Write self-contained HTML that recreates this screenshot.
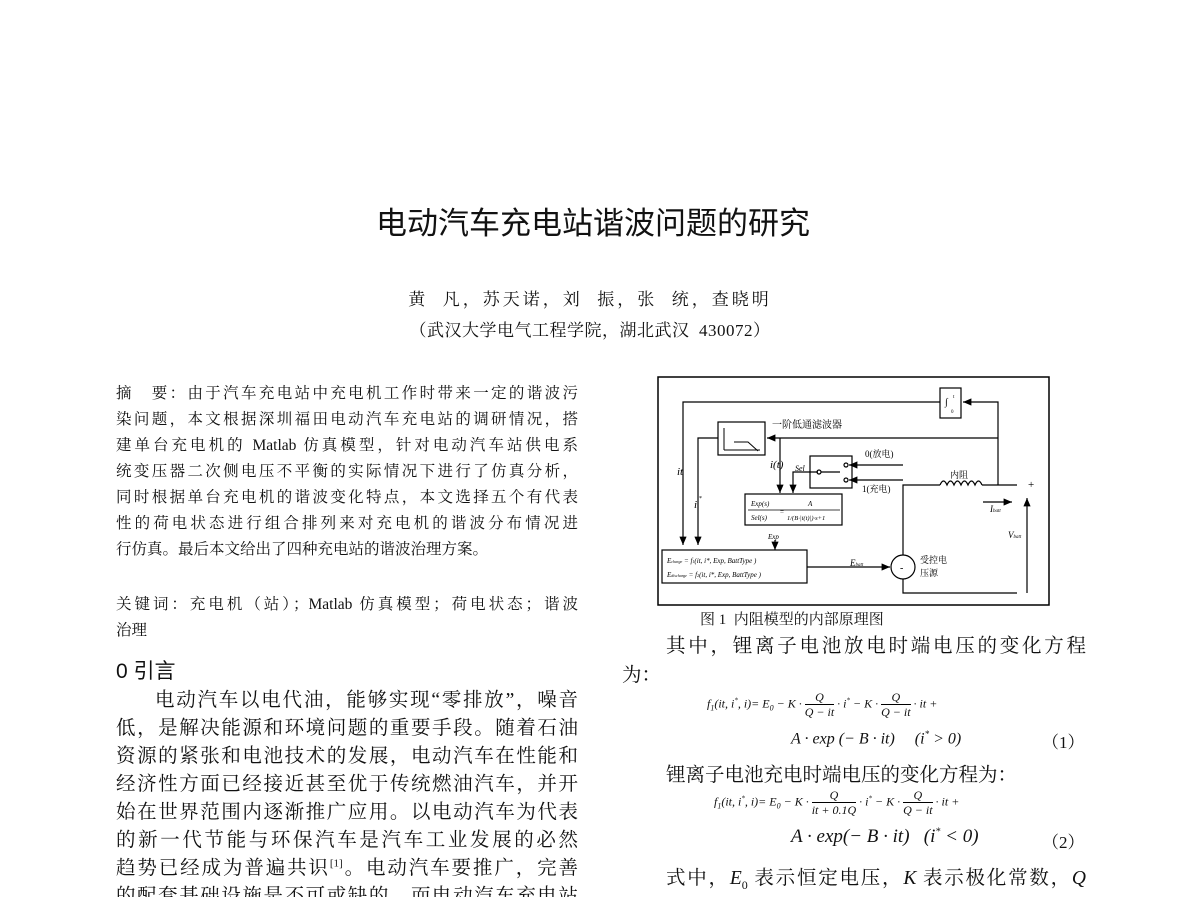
<!DOCTYPE html>
<html><head><meta charset="utf-8"><style>
body{margin:0;background:#fff;}
#p{position:relative;width:1200px;height:897px;overflow:hidden;background:#fff;color:#111;font-family:"Liberation Serif","Noto Serif CJK SC",serif;}
.a{position:absolute;white-space:nowrap;}
.j{position:absolute;white-space:nowrap;text-align:justify;text-align-last:justify;}
.ab{font-size:15.5px;left:116px;width:462px;}
.bd{font-size:19.5px;left:116px;width:462px;}
.m{font-family:"Liberation Serif",serif;font-style:italic;}
</style></head><body><div id="p">
<div class="a" style="left:0;width:1186px;text-align:center;top:198px;font-size:31px;font-family:'Liberation Sans','Noto Sans CJK SC',sans-serif;">电动汽车充电站谐波问题的研究</div>
<div class="a" style="left:0;width:1180px;text-align:center;top:285px;font-size:17px;letter-spacing:3px;">黄&nbsp; 凡，苏天诺，刘&nbsp; 振，张&nbsp; 统，查晓明</div>
<div class="a" style="left:0;width:1180px;text-align:center;top:316px;font-size:17px;letter-spacing:0.5px;">（武汉大学电气工程学院，湖北武汉&nbsp; 430072）</div>

<div class="j ab" style="top:381px">摘　要：由于汽车充电站中充电机工作时带来一定的谐波污</div>
<div class="j ab" style="top:407px">染问题，本文根据深圳福田电动汽车充电站的调研情况，搭</div>
<div class="j ab" style="top:433px">建单台充电机的 Matlab 仿真模型，针对电动汽车站供电系</div>
<div class="j ab" style="top:459px">统变压器二次侧电压不平衡的实际情况下进行了仿真分析，</div>
<div class="j ab" style="top:485px">同时根据单台充电机的谐波变化特点，本文选择五个有代表</div>
<div class="j ab" style="top:511px">性的荷电状态进行组合排列来对充电机的谐波分布情况进</div>
<div class="a ab" style="top:537px">行仿真。最后本文给出了四种充电站的谐波治理方案。</div>
<div class="j ab" style="top:592px">关键词：充电机（站）；Matlab 仿真模型；荷电状态；谐波</div>
<div class="a ab" style="top:618px">治理</div>

<div class="a" style="left:116px;top:655px;font-size:21px;font-family:'Liberation Sans','Noto Sans CJK SC',sans-serif;">0 引言</div>
<div class="j bd" style="top:684px;left:155px;width:423px">电动汽车以电代油，能够实现“零排放”，噪音</div>
<div class="j bd" style="top:712px">低，是解决能源和环境问题的重要手段。随着石油</div>
<div class="j bd" style="top:740px">资源的紧张和电池技术的发展，电动汽车在性能和</div>
<div class="j bd" style="top:768px">经济性方面已经接近甚至优于传统燃油汽车，并开</div>
<div class="j bd" style="top:796px">始在世界范围内逐渐推广应用。以电动汽车为代表</div>
<div class="j bd" style="top:824px">的新一代节能与环保汽车是汽车工业发展的必然</div>
<div class="j bd" style="top:852px">趋势已经成为普遍共识<sup style="font-size:11px">[1]</sup>。电动汽车要推广，完善</div>
<div class="j bd" style="top:880px">的配套基础设施是不可或缺的，而电动汽车充电站</div>

<svg class="a" style="left:0;top:0" width="1200" height="897" font-family="Liberation Serif,Noto Serif CJK SC,serif">
<defs><marker id="ar" markerWidth="8" markerHeight="8" refX="7" refY="3" orient="auto"><path d="M0,0L7,3L0,6z" fill="#000"/></marker></defs>
<g fill="none" stroke="#000" stroke-width="1.2">
<rect x="658" y="377" width="391" height="228" stroke-width="1.5"/>
<rect x="940" y="388" width="21" height="30"/>
<path d="M940,402H683V545" marker-end="url(#ar)"/>
<path d="M998,485V402H963" marker-end="url(#ar)"/>
<path d="M998,438H767" marker-end="url(#ar)"/>
<rect x="718" y="422" width="47" height="33"/>
<path d="M724,450V428M724,450H760M734,442H748L758,451" stroke-width="1"/>
<path d="M718,438H698V545" marker-end="url(#ar)"/>
<path d="M780,438V493" marker-end="url(#ar)"/>
<path d="M818,472H793V493" marker-end="url(#ar)"/>
<rect x="810" y="456" width="42" height="32"/>
<circle cx="819" cy="472" r="2"/><circle cx="846" cy="465" r="2"/><circle cx="846" cy="480" r="2"/>
<path d="M821,472H840"/>
<path d="M903,465H849" marker-end="url(#ar)"/>
<path d="M903,480H849" marker-end="url(#ar)"/>
<rect x="745" y="494" width="97" height="31"/>
<path d="M748,510H840" stroke-width="0.8"/>
<path d="M775,540V550" marker-end="url(#ar)"/>
<rect x="662" y="550" width="145" height="33"/>
<path d="M807,567H890" marker-end="url(#ar)"/>
<circle cx="903" cy="567" r="12"/>
<path d="M903,555V485H940M982,485H1017M903,579V593H1017"/>
<path d="M940,485q3.5,-8 7,0q3.5,-8 7,0q3.5,-8 7,0q3.5,-8 7,0q3.5,-8 7,0q3.5,-8 7,0"/>
<path d="M983,502H1012" marker-end="url(#ar)"/>
<path d="M1027,593V498" marker-end="url(#ar)"/>
</g>
<g font-size="9" fill="#000">
<text x="945" y="405" font-size="10">∫</text><text x="953" y="398" font-size="5">t</text><text x="951" y="413" font-size="5">0</text>
<text x="772" y="428" font-size="10">一阶低通滤波器</text>
<text x="677" y="475" font-size="11" font-style="italic">it</text>
<text x="694" y="508" font-size="11" font-style="italic">i</text><text x="699" y="500" font-size="6">*</text>
<text x="770" y="468" font-size="11" font-style="italic">i(t)</text>
<text x="795" y="471" font-size="8" font-style="italic">Sel</text>
<text x="865" y="457" font-size="9">0(放电)</text>
<text x="862" y="492" font-size="9">1(充电)</text>
<text x="950" y="478" font-size="9">内阻</text>
<text x="1028" y="488" font-size="11">+</text>
<text x="990" y="512" font-size="9" font-style="italic">I<tspan font-size="5">batt</tspan></text>
<text x="1008" y="538" font-size="9" font-style="italic">V<tspan font-size="5">batt</tspan></text>
<text x="751" y="506" font-size="7" font-style="italic">Exp(s)</text>
<text x="751" y="520" font-size="7" font-style="italic">Sel(s)</text>
<text x="780" y="514" font-size="7">=</text>
<text x="808" y="506" font-size="7" font-style="italic">A</text>
<text x="787" y="520" font-size="6.5" font-style="italic">1/(B·|i(t)|)·s+1</text>
<text x="768" y="539" font-size="7" font-style="italic">Exp</text>
<text x="667" y="563" font-size="7" font-style="italic">E<tspan font-size="4">charge</tspan> = f<tspan font-size="4">1</tspan>(it, i*, Exp, BattType )</text>
<text x="667" y="577" font-size="7" font-style="italic">E<tspan font-size="4">discharge</tspan> = f<tspan font-size="4">2</tspan>(it, i*, Exp, BattType )</text>
<text x="850" y="566" font-size="9" font-style="italic">E<tspan font-size="5">batt</tspan></text>
<text x="900" y="571" font-size="10">-</text>
<text x="920" y="563" font-size="9">受控电</text>
<text x="920" y="576" font-size="9">压源</text>
</g>
</svg>

<div class="a" style="left:700px;top:608px;font-size:15px;">图 1&nbsp; 内阻模型的内部原理图</div>
<div class="j" style="left:666px;top:630px;width:420px;font-size:19.5px;">其中，锂离子电池放电时端电压的变化方程</div>
<div class="a" style="left:622px;top:659px;font-size:19.5px;">为：</div>
<div class="a m" style="left:707px;top:690px;font-size:12px;">f<sub style="font-size:8px">1</sub>(it, i<sup style="font-size:7px">*</sup>, i)= E<sub style="font-size:8px">0</sub> − K · <span style="display:inline-block;text-align:center;vertical-align:middle;line-height:14px"><span style="display:block;border-bottom:1px solid #000">Q</span>Q − it</span> · i<sup style="font-size:7px">*</sup> − K · <span style="display:inline-block;text-align:center;vertical-align:middle;line-height:14px"><span style="display:block;border-bottom:1px solid #000">Q</span>Q − it</span> · it +</div>
<div class="a m" style="left:791px;top:729px;font-size:16px;">A · exp (− B · it)&nbsp;&nbsp;&nbsp;&nbsp; (i<sup style="font-size:9px">*</sup> &gt; 0)</div>
<div class="a" style="left:1042px;top:728px;font-size:17px;">（1）</div>
<div class="a" style="left:666px;top:759px;font-size:19.5px;">锂离子电池充电时端电压的变化方程为：</div>
<div class="a m" style="left:714px;top:788px;font-size:12px;">f<sub style="font-size:8px">1</sub>(it, i<sup style="font-size:7px">*</sup>, i)= E<sub style="font-size:8px">0</sub> − K · <span style="display:inline-block;text-align:center;vertical-align:middle;line-height:14px"><span style="display:block;border-bottom:1px solid #000">Q</span>it + 0.1Q</span> · i<sup style="font-size:7px">*</sup> − K · <span style="display:inline-block;text-align:center;vertical-align:middle;line-height:14px"><span style="display:block;border-bottom:1px solid #000">Q</span>Q − it</span> · it +</div>
<div class="a m" style="left:791px;top:826px;font-size:19px;">A · exp(− B · it)&nbsp;&nbsp; (i<sup style="font-size:10px">*</sup> &lt; 0)</div>
<div class="a" style="left:1042px;top:828px;font-size:17px;">（2）</div>
<div class="j" style="left:666px;top:862px;width:420px;font-size:19.5px;">式中，<i>E</i><sub style="font-size:12px">0</sub> 表示恒定电压，<i>K</i> 表示极化常数，<i>Q</i></div>
</div></body></html>
